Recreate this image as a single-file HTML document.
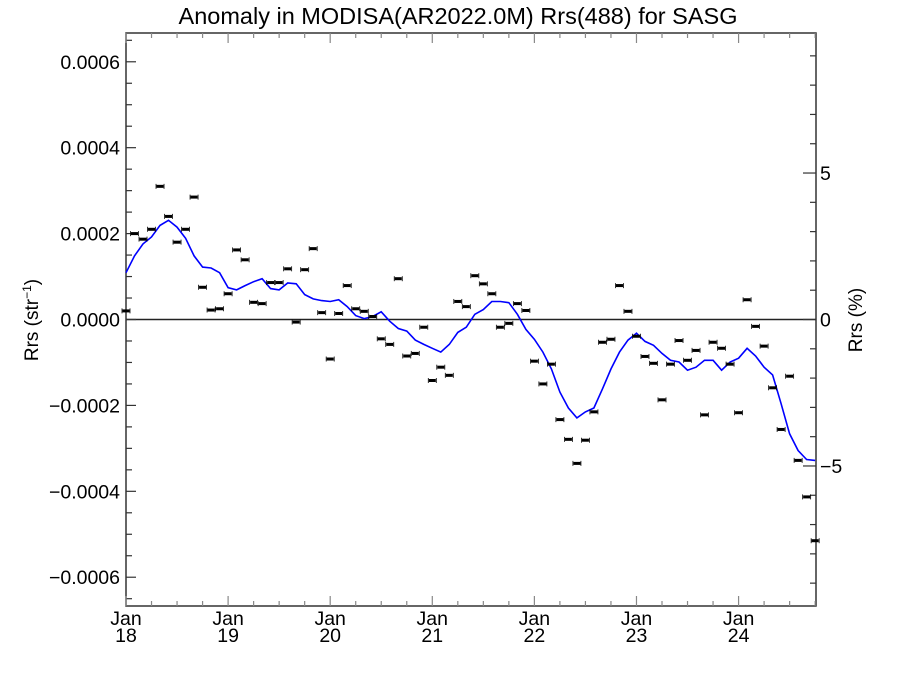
<!DOCTYPE html>
<html><head><meta charset="utf-8"><style>
html,body{margin:0;padding:0;background:#fff;}
svg{display:block;font-family:"Liberation Sans",Arial,sans-serif;}
</style></head><body>
<svg id="chart" width="900" height="675" viewBox="0 0 900 675">
<text x="458" y="24" font-size="23.5" text-anchor="middle">Anomaly in MODISA(AR2022.0M) Rrs(488) for SASG</text>
<g id="axes"></g>
<g id="series"></g>
</svg>
<script>
// data: monthly anomalies starting Jan 2018 (units 1e-4 sr^-1)
const monthsStart = [2018, 0];
const anomalyValues = [0.2,2.0,1.87,2.1,3.1,2.4,1.8,2.1,2.85,0.75,0.22,0.25,0.6,1.62,1.39,0.4,0.37,0.86,0.86,1.18,-0.06,1.16,1.65,0.16,-0.92,0.14,0.79,0.25,0.19,0.07,-0.45,-0.58,0.95,-0.85,-0.79,-0.18,-1.42,-1.11,-1.3,0.42,0.3,1.02,0.83,0.6,-0.18,-0.09,0.37,0.21,-0.97,-1.5,-1.04,-2.33,-2.79,-3.35,-2.81,-2.15,-0.53,-0.46,0.79,0.19,-0.39,-0.86,-1.02,-1.87,-1.04,-0.49,-0.95,-0.72,-2.22,-0.53,-0.67,-1.04,-2.17,0.46,-0.16,-0.62,-1.59,-2.56,-1.32,-3.28,-4.13,-5.15];
const smoothValues = [1.09,1.48,1.76,1.92,2.19,2.31,2.15,1.89,1.48,1.22,1.2,1.09,0.74,0.69,0.79,0.88,0.95,0.72,0.69,0.85,0.83,0.58,0.48,0.44,0.42,0.46,0.3,0.09,0.02,0.07,0.18,-0.04,-0.21,-0.27,-0.48,-0.58,-0.67,-0.76,-0.58,-0.3,-0.18,0.12,0.23,0.42,0.42,0.39,0.12,-0.23,-0.46,-0.76,-1.15,-1.69,-2.06,-2.29,-2.15,-2.06,-1.62,-1.15,-0.76,-0.48,-0.32,-0.51,-0.6,-0.79,-0.95,-0.99,-1.18,-1.11,-0.95,-0.95,-1.18,-0.99,-0.9,-0.67,-0.85,-1.11,-1.29,-1.96,-2.66,-3.05,-3.26,-3.28];
const leftTicks = [-6,-4,-2,0,2,4,6];
const leftTickLabels = ["\u22120.0006","\u22120.0004","\u22120.0002","0.0000","0.0002","0.0004","0.0006"];
const rightTicks = [-5,0,5];
const rightTickLabels = ["\u22125","0","5"];
const yearTicks = [0,12,24,36,48,60,72];
const yearLabels = ["18","19","20","21","22","23","24"];

const L=126,R=816,T=33,B=606;
const xMax=81.1;
const ymin=-6.67,ymax=6.67, pmax=9.78;
const X=i=>L+(i/xMax)*(R-L);
const Y=v=>T+(ymax-v)/(ymax-ymin)*(B-T);
const YP=p=>T+(pmax-p)/(2*pmax)*(B-T);
const NS="http://www.w3.org/2000/svg";
function mk(tag,attrs,parent){const e=document.createElementNS(NS,tag);for(const k in attrs)e.setAttribute(k,attrs[k]);parent.appendChild(e);return e;}
const axes=document.getElementById('axes'), series=document.getElementById('series');

const frame=mk('rect',{x:L,y:T,width:R-L,height:B-T,fill:'none',stroke:'#333','stroke-width':1.5},axes);


const zl=mk('line',{x1:L,x2:R,y1:Y(0),y2:Y(0),stroke:'#222','stroke-width':1.5},axes);



for(let v=-6.5;v<=6.5;v+=0.5){
  const major=leftTicks.includes(v);
  const t=mk('line',{x1:L,x2:L+(major?10:6),y1:Y(v),y2:Y(v),stroke:'#333','stroke-width':1.2},axes);
  
  
}
leftTicks.forEach((v,k)=>{
  const t=mk('text',{x:L-6,y:Y(v)+7,'font-size':19.5,'text-anchor':'end'},axes);
  t.textContent=leftTickLabels[k];
  
  
});
for(let p=-9;p<=9;p++){
  const major=rightTicks.includes(p);
  const t=mk('line',{x1:R,x2:R-(major?13:6),y1:YP(p),y2:YP(p),stroke:'#333','stroke-width':1.2},axes);
  
  
}
rightTicks.forEach((p,k)=>{
  const t=mk('text',{x:R+4,y:YP(p)+7,'font-size':19.5,'text-anchor':'start'},axes);
  t.textContent=rightTickLabels[k];
  
  
});
for(let m=0;m<=xMax;m+=3){
  const major=m%12===0;
  const len=major?10:5;
  const a=mk('line',{x1:X(m),x2:X(m),y1:B,y2:B-len,stroke:'#888','stroke-width':1.2},axes);
  
  
  const b=mk('line',{x1:X(m),x2:X(m),y1:T,y2:T+len,stroke:'#888','stroke-width':1.2},axes);
  
  
}
yearTicks.forEach((m,k)=>{
  const t1=mk('text',{x:X(m),y:625,'font-size':19.5,'text-anchor':'middle'},axes);
  t1.textContent='Jan';
  
  
  const t2=mk('text',{x:X(m),y:642,'font-size':19.5,'text-anchor':'middle'},axes);
  t2.textContent=yearLabels[k];
  
  
});
const yl=mk('text',{x:0,y:0,'font-size':19,'text-anchor':'middle',transform:'translate(38,320) rotate(-90)'},axes);
yl.innerHTML='Rrs (str<tspan dy="-7" font-size="12">\u22121</tspan><tspan dy="7">)</tspan>';


const yr=mk('text',{x:0,y:0,'font-size':19,'text-anchor':'middle',transform:'translate(862,320) rotate(-90)'},axes);
yr.textContent='Rrs (%)';



const pts=smoothValues.map((v,i)=>X(i).toFixed(1)+','+Y(v).toFixed(1)).join(' ');
const pl=mk('polyline',{points:pts,fill:'none',stroke:'#0000ff','stroke-width':1.6},series);



anomalyValues.forEach((v,i)=>{
  const g=mk('g',{},series);
  
  
  const x=X(i), y=Y(v);
  mk('rect',{x:x-3.5,y:y-1.5,width:7,height:3,fill:'#000'},g);
  mk('line',{x1:x-4,x2:x-4,y1:y-2.5,y2:y+2.5,stroke:'#000','stroke-width':0.8},g);
  mk('line',{x1:x+4,x2:x+4,y1:y-2.5,y2:y+2.5,stroke:'#000','stroke-width':0.8},g);
});
</script>
</body></html>
